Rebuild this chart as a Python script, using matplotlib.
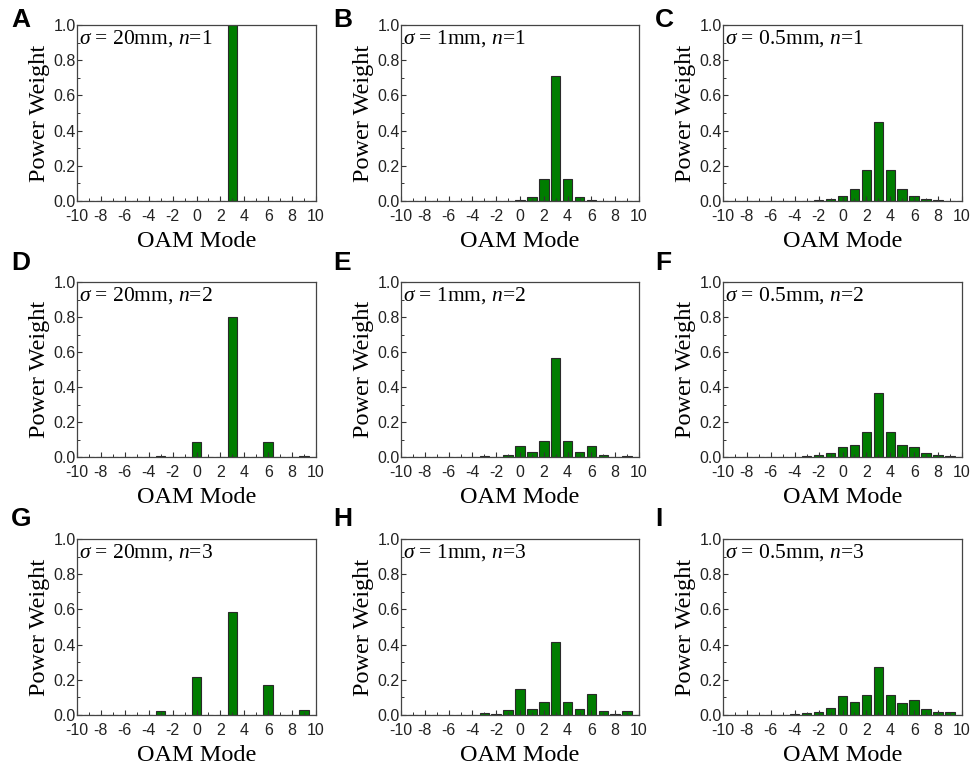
import numpy as np
import matplotlib
matplotlib.use("Agg")
import matplotlib.pyplot as plt
from matplotlib.ticker import MultipleLocator

plt.rcParams['mathtext.fontset'] = 'custom'
plt.rcParams['mathtext.rm'] = 'Liberation Serif'
plt.rcParams['mathtext.it'] = 'Liberation Serif:italic'
plt.rcParams['axes.unicode_minus'] = False

modes = np.arange(-10, 11)

def spectrum(d):
    # d : {mode: weight}, missing modes are zero
    return [d.get(m, 0.0) for m in modes]

# sigma = 20mm / 1mm / 0.5mm  ;  n = 1, 2, 3
w_A = spectrum({3: 1.0})
w_B = spectrum({0: 0.003, 1: 0.024, 2: 0.123, 3: 0.71, 4: 0.123, 5: 0.024, 6: 0.003})
w_C = spectrum({-2: 0.003, -1: 0.01, 0: 0.028, 1: 0.068, 2: 0.174, 3: 0.449,
                4: 0.174, 5: 0.068, 6: 0.028, 7: 0.01, 8: 0.003})
w_D = spectrum({-3: 0.008, 0: 0.088, 3: 0.80, 6: 0.088, 9: 0.008})
w_E = spectrum({-3: 0.004, -2: 0.001, -1: 0.011, 0: 0.064, 1: 0.026, 2: 0.093,
                3: 0.565, 4: 0.093, 5: 0.026, 6: 0.064, 7: 0.011, 8: 0.001, 9: 0.004})
w_F = spectrum({-4: 0.001, -3: 0.004, -2: 0.009, -1: 0.025, 0: 0.059, 1: 0.066,
                2: 0.142, 3: 0.364, 4: 0.142, 5: 0.066, 6: 0.059, 7: 0.025,
                8: 0.009, 9: 0.004})
w_G = spectrum({-6: 0.001, -3: 0.02, 0: 0.217, 3: 0.584, 6: 0.168, 9: 0.031})
w_H = spectrum({-4: 0.002, -3: 0.014, -2: 0.005, -1: 0.027, 0: 0.150, 1: 0.035,
                2: 0.073, 3: 0.415, 4: 0.073, 5: 0.032, 6: 0.119, 7: 0.022,
                8: 0.004, 9: 0.022})
w_I = spectrum({-5: 0.002, -4: 0.006, -3: 0.013, -2: 0.017, -1: 0.042, 0: 0.110,
                1: 0.075, 2: 0.113, 3: 0.272, 4: 0.113, 5: 0.067, 6: 0.088,
                7: 0.033, 8: 0.017, 9: 0.017})

weights = [w_A, w_B, w_C, w_D, w_E, w_F, w_G, w_H, w_I]
letters = ['A', 'B', 'C', 'D', 'E', 'F', 'G', 'H', 'I']
sigmas = ['20mm', '1mm', '0.5mm']
ns = [1, 2, 3]

W, H = 971, 768
fig = plt.figure(figsize=(W / 100, H / 100), dpi=100)

# axes boxes in pixels (left, right) / (top, bottom)
cols = [(77, 316), (401, 639), (723, 962)]
rows = [(25, 201), (282, 457), (539, 715)]
letter_pos = [[(11, 8), (333, 8), (655, 8)],
              [(11, 251), (333, 251), (655, 251)],
              [(11, 507), (333, 507), (655, 507)]]

for r in range(3):
    for c in range(3):
        k = r * 3 + c
        x0, x1 = cols[c]
        y0, y1 = rows[r]
        ax = fig.add_axes([x0 / W, 1 - y1 / H, (x1 - x0) / W, (y1 - y0) / H])
        ax.bar(modes, weights[k], width=0.8, color='#007d00', edgecolor='#2a2a2a',
               linewidth=0.8)
        ax.set_xlim(-10, 10)
        ax.set_ylim(0, 1.0)
        ax.xaxis.set_major_locator(MultipleLocator(2))
        ax.xaxis.set_minor_locator(MultipleLocator(1))
        ax.yaxis.set_major_locator(MultipleLocator(0.2))
        ax.yaxis.set_minor_locator(MultipleLocator(0.1))
        ax.set_yticks(np.arange(0, 1.01, 0.2))
        ax.set_yticklabels(['%.1f' % v for v in np.arange(0, 1.01, 0.2)])
        ax.tick_params(which='both', direction='in', top=False, right=False,
                       labelsize=11.5, color='#333333', labelcolor='#222222')
        ax.tick_params(axis='y', pad=1)
        ax.tick_params(axis='x', pad=5.5)
        ax.tick_params(which='major', length=3.5, width=0.8)
        ax.tick_params(which='minor', length=2, width=0.7)
        for lab in ax.get_xticklabels() + ax.get_yticklabels():
            lab.set_fontfamily('Liberation Sans')
        for s in ax.spines.values():
            s.set_color('#444444')
            s.set_linewidth(0.9)

        ax.set_xlabel('OAM Mode', fontfamily='Liberation Serif', fontsize=17.5)
        ax.xaxis.set_label_coords(0.5, -30 / (y1 - y0))
        ax.set_ylabel('Power Weight', fontfamily='Liberation Serif', fontsize=17.5)
        ax.yaxis.set_label_coords(-27 / (x1 - x0), 0.5)

        ax.text(0.01, 0.985, r'$\sigma$ = %s, $n$=%d' % (sigmas[c], ns[r]),
                transform=ax.transAxes, ha='left', va='top',
                fontfamily='Liberation Serif', fontsize=15.5)

        lx, ly = letter_pos[r][c]
        fig.text(lx / W, 1 - ly / H, letters[k], ha='left', va='top',
                 fontfamily='Liberation Sans', fontweight='bold', fontsize=19)

fig.savefig('out.png', dpi=100)
